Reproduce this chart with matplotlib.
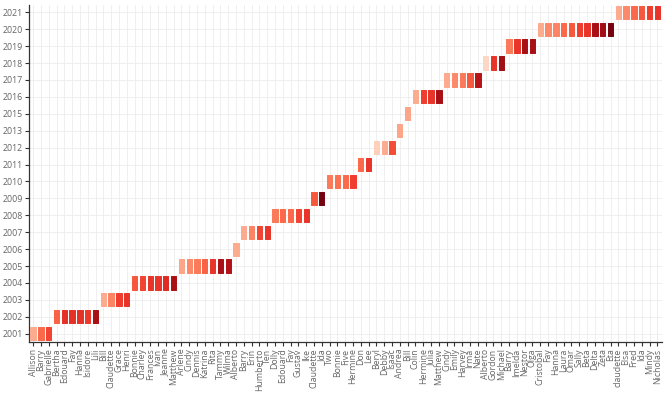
import matplotlib
matplotlib.use('Agg')
import matplotlib.pyplot as plt
import numpy as np

plt.rcParams['font.family'] = ['Open Sans', 'DejaVu Sans']

# storms per year (x axis order), colour level per storm
years = ['2001', '2002', '2003', '2004', '2005', '2006', '2007', '2008', '2009', '2010',
         '2011', '2012', '2013', '2015', '2016', '2017', '2018', '2019', '2020', '2021']

storms = [
    ['Allison', 'Barry', 'Gabrielle'],
    ['Bertha', 'Edouard', 'Fay', 'Hanna', 'Isidore', 'Lili'],
    ['Bill', 'Claudette', 'Grace', 'Henri'],
    ['Bonnie', 'Charley', 'Frances', 'Ivan', 'Jeanne', 'Matthew'],
    ['Arlene', 'Cindy', 'Dennis', 'Katrina', 'Rita', 'Tammy', 'Wilma'],
    ['Alberto'],
    ['Barry', 'Erin', 'Humberto', 'Ten'],
    ['Dolly', 'Edouard', 'Fay', 'Gustav', 'Ike'],
    ['Claudette', 'Ida'],
    ['Two', 'Bonnie', 'Five', 'Hermine'],
    ['Don', 'Lee'],
    ['Beryl', 'Debby', 'Isaac'],
    ['Andrea'],
    ['Bill'],
    ['Colin', 'Hermine', 'Julia', 'Matthew'],
    ['Cindy', 'Emily', 'Harvey', 'Irma', 'Nate'],
    ['Alberto', 'Gordon', 'Michael'],
    ['Barry', 'Imelda', 'Nestor', 'Olga'],
    ['Cristobal', 'Fay', 'Hanna', 'Laura', 'Omar', 'Sally', 'Beta', 'Delta', 'Zeta', 'Eta'],
    ['claudette', 'Elsa', 'Fred', 'Ida', 'Mindy', 'Nicholas'],
]

levels = [
    [0.30, 0.50, 0.60],
    [0.52, 0.66, 0.66, 0.66, 0.63, 0.86],
    [0.30, 0.42, 0.62, 0.65],
    [0.55, 0.60, 0.65, 0.65, 0.68, 0.86],
    [0.32, 0.40, 0.45, 0.52, 0.65, 0.86, 0.83],
    [0.30],
    [0.30, 0.42, 0.60, 0.65],
    [0.45, 0.50, 0.50, 0.60, 0.65],
    [0.55, 0.97],
    [0.45, 0.48, 0.50, 0.62],
    [0.50, 0.65],
    [0.18, 0.30, 0.58],
    [0.32],
    [0.32],
    [0.30, 0.62, 0.65, 0.86],
    [0.30, 0.40, 0.45, 0.55, 0.82],
    [0.16, 0.65, 0.88],
    [0.45, 0.65, 0.86, 0.86],
    [0.30, 0.40, 0.42, 0.50, 0.55, 0.62, 0.65, 0.86, 0.88, 0.97],
    [0.30, 0.40, 0.50, 0.55, 0.62, 0.65],
]

names = [n for grp in storms for n in grp]
xs = np.arange(len(names))
ys = np.concatenate([[i] * len(g) for i, g in enumerate(storms)])
vals = np.concatenate(levels)

fig, ax = plt.subplots(figsize=(6.64, 3.96), dpi=100)
fig.subplots_adjust(left=0.044, right=0.997, bottom=0.136, top=0.987)

cmap = plt.get_cmap('Reds')
colors = cmap(vals)
h = 0.78
# edge in the same colour with round joins gives the soft corners
ax.bar(xs, h, bottom=ys - h / 2, width=0.68, color=colors, edgecolor=colors,
       linewidth=0.7, joinstyle='round', zorder=3)

ax.set_xlim(-0.5, 80.6)
ax.set_ylim(-0.5, 19.42)
ax.set_xticks(xs)
ax.set_xticklabels(names, rotation=90, fontsize=6.3, color='#666666')
ax.set_yticks(np.arange(len(years)))
ax.set_yticklabels(years, fontsize=6.3, color='#666666')

ax.grid(True, color='#ececec', linewidth=0.6, zorder=0)
ax.set_axisbelow(True)
for s in ['top', 'right']:
    ax.spines[s].set_visible(False)
for s in ['left', 'bottom']:
    ax.spines[s].set_color('#333333')
    ax.spines[s].set_linewidth(0.9)
ax.tick_params(length=3, width=0.8, color='#333333', pad=1.5)

plt.savefig('out.png', dpi=100)
